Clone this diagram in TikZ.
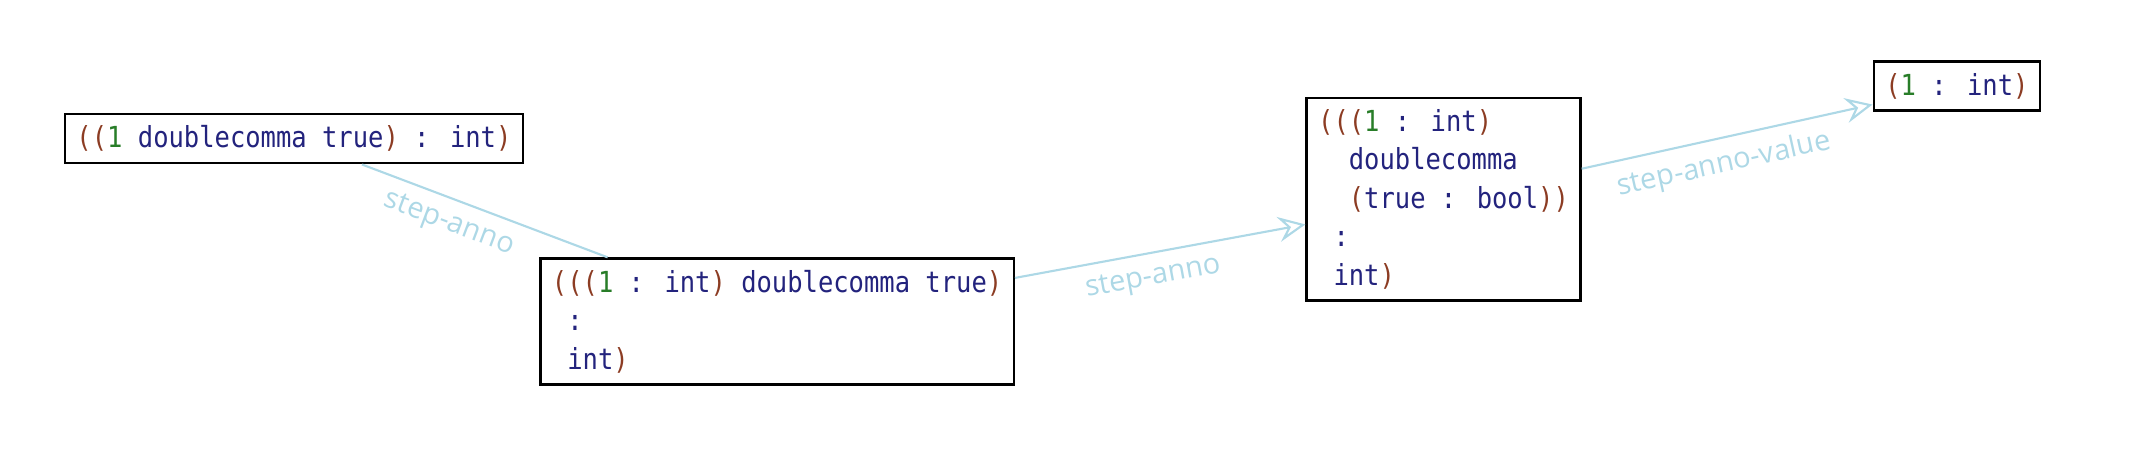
\documentclass[tikz,border=0pt]{standalone}
\usepackage{fontspec}
\usepackage{xcolor}
\usepackage{tikz}
\usetikzlibrary{arrows.meta,positioning}
\newfontfamily\codefont[FakeStretch=0.88]{DejaVu Sans Mono}
\newfontfamily\labelfont{Open Sans}
\definecolor{paren}{RGB}{140,60,35}
\definecolor{lit}{RGB}{40,125,40}
\definecolor{kw}{RGB}{35,35,125}
\definecolor{stepcol}{RGB}{173,216,230}
\newcommand{\opar}{\textcolor{paren}{(}}
\newcommand{\cpar}{\textcolor{paren}{)}}
\newcommand{\lit}[1]{\textcolor{lit}{#1}}
\tikzstyle{term} = [rectangle, draw, line width=1.2pt, fill=white, text=kw,
    align=left, inner xsep=6pt, inner ysep=6pt,
    font=\codefont\fontsize{15}{19.9}\selectfont]
\tikzstyle{line} = [draw, stepcol, line width=1.1pt]
\tikzstyle{arrow} = [line, -{Stealth[open, length=14pt, width=13pt, inset=5pt]}]
\tikzstyle{lbl} = [sloped, below=2.5pt, text=stepcol, font=\labelfont\fontsize{15}{17}\selectfont]

\begin{document}
\begin{tikzpicture}[x=0.025cm, y=-0.025cm]
  \useasboundingbox (0,0) rectangle (1568,327.6);
  % nodes
  \node [term] (t1) at (214,101)
    {\opar\opar\lit{1} doublecomma true\cpar{} : int\cpar};
  \node [term, right of = t1, node distance = 8.79cm, yshift = -3.325cm] (t2)
    {\opar\opar\opar\lit{1} : int\cpar{} doublecomma true\cpar\\
     ~:\\
     ~int\cpar};
  \node [term, right of = t2, node distance = 12.125cm, yshift = 2.225cm] (t3)
    {\opar\opar\opar\lit{1} : int\cpar\\
     ~~doublecomma\\
     ~~\opar true : bool\cpar\cpar\\
     ~:\\
     ~int\cpar};
  \node [term, right of = t3, node distance = 9.34cm, yshift = 2.06cm] (t4)
    {\opar\lit{1} : int\cpar};
  % edges
  \path [line] (t1) -- node [lbl, pos=0.39] {step-anno} (t2);
  \path [arrow] (t2) -- node [lbl, pos=0.46] {step-anno} (t3);
  \path [arrow] (t3) -- node [lbl, pos=0.47] {step-anno-value} (t4);
\end{tikzpicture}
\end{document}
